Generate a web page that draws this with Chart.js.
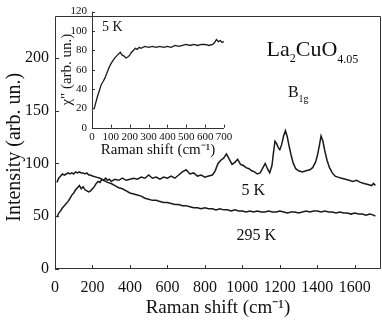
<!DOCTYPE html>
<html><head><meta charset="utf-8">
<script src="https://cdn.jsdelivr.net/npm/chart.js@4"></script>
<style>
html,body{margin:0;padding:0;background:#fff;}
#wrap{position:relative;width:382px;height:321px;overflow:hidden;}
#main{position:absolute;left:0;top:0;}
#inset{position:absolute;left:55px;top:0;}
</style></head><body>
<div id="wrap"><canvas id="main" width="382" height="321"></canvas><canvas id="inset" width="185" height="160"></canvas></div>
<script>
// ---- Main panel data (Raman shift in cm-1, intensity in arb. un.) ----
const shift5K = [10,20,30,40,50,60,70,80,90,100,110,120,130,140,150,160,170,180,190,200,210,220,230,240,250,260,270,280,290,300,
 320,340,360,380,400,420,440,460,480,500,520,540,560,580,600,620,640,660,680,700,720,740,760,780,800,820,840,
 855,870,885,900,915,930,945,960,975,990,1005,1020,1035,1050,1065,1080,1095,1110,1122,1134,1146,1158,1166,1174,1182,1192,1200,1210,1220,1230,1240,1250,1260,1272,1285,1300,1320,1340,1360,1375,1390,1400,1410,1420,1430,1440,1452,1465,1480,1495,1510,1530,1550,1570,1590,1610,1630,1650,1670,1690,1700,1710];
const int5K = [49,53,55,58,60,62,64,67,70,72,75,77,79,76,78,75,74,73,74,76,78,81,83,82,85,84,86,84,85,83,
 85,84,86,84,85,86,85,87,86,89,86,87,85,87,86,88,86,89,92,94,90,91,88,89,87,88,89,
 93,100,103,105,109,104,99,101,104,99,98,96,95,93,92,90,91,96,100,95,91,98,110,121,119,115,113,118,126,131,125,116,108,100,95,93,92,93,94,96,101,107,116,126,121,112,103,96,91,88,87,86,85,84,83,84,82,81,80,79,81,79];

const shift295K = [10,20,30,40,50,60,70,80,90,100,110,120,130,140,150,160,170,180,190,200,220,240,260,280,300,320,340,360,380,400,420,440,460,480,500,520,540,560,580,600,620,640,660,680,700,720,740,760,780,800,820,840,860,880,900,920,940,960,980,1000,1020,1040,1060,1080,1100,1120,1140,1160,1180,1200,1220,1240,1260,1280,1300,1320,1340,1360,1380,1400,1420,1440,1460,1480,1500,1520,1540,1560,1580,1600,1620,1640,1660,1680,1700,1710];
const int295K = [82,86,88,90,89,90,91,90,91,90,92,91,92,91,91,90,91,89,89,88,87,86,84,82,81,79,77,76,74,72,71,70,69,67,66,65,65,64,63,63,62,61,61,60,60,59,58,58,57,58,57,57,56,57,56,56,55,56,55,55,54,55,54,55,54,54,55,54,54,55,54,53,54,54,53,54,55,54,55,55,54,55,54,54,53,54,53,53,52,53,52,52,51,52,51,50];

// ---- Inset data (5 K, chi'') ----
const shiftInset = [10,15,20,30,40,50,60,70,80,90,100,110,120,130,140,150,160,170,180,190,200,210,220,230,240,250,260,280,300,320,340,360,380,400,420,440,460,480,500,520,540,560,580,600,620,640,650,660,670,680,690,700];
const chiInset = [19,22,26,33,39,45,48,52,57,62,66,69,72,74,76,78,75,74,72,73,75,78,80,82,81,83,82,84,83,84,83,84,83,84,83,85,84,85,86,85,86,85,86,86,85,86,88,91,89,90,88,89];

// ---- Axis tick labels ----
const mainXTickStep = 100, mainXLabelStep = 200;
const mainYTickStep = 25, mainYLabelStep = 50;
const insetXTickStep = 50, insetXLabelStep = 100;
const insetYTickStep = 20, insetYLabelStep = 20;

const FONT = '"Liberation Serif", "Times New Roman", serif';
const INK = '#111';

function pts(xs, ys){ return xs.map((x,i)=>({x:x, y:ys[i]})); }

const inTicks = {
  id:'inTicks',
  afterDraw(chart, args, o){
    const ctx = chart.ctx, a = chart.chartArea;
    const xs = chart.scales.x, ys = chart.scales.y;
    ctx.save();
    ctx.strokeStyle = o.color; ctx.lineWidth = 1;
    ctx.beginPath();
    xs.ticks.forEach(t=>{
      if (t.value % o.xStep !== 0) return;
      const p = Math.round(xs.getPixelForValue(t.value)) + 0.5;
      const L = (t.value % o.xLab === 0) ? o.major : o.minor;
      ctx.moveTo(p, a.bottom); ctx.lineTo(p, a.bottom - L);
    });
    ys.ticks.forEach(t=>{
      if (t.value % o.yStep !== 0) return;
      const p = Math.round(ys.getPixelForValue(t.value)) + 0.5;
      const L = (t.value % o.yLab === 0) ? o.major : o.minor;
      ctx.moveTo(a.left, p); ctx.lineTo(a.left + L, p);
    });
    ctx.stroke();
    ctx.beginPath();
    if (o.box) {
      ctx.rect(Math.round(a.left)+0.5, Math.round(a.top)+0.5, Math.round(a.right-a.left)-1, Math.round(a.bottom-a.top)-1);
    } else {
      ctx.moveTo(Math.round(a.left)+0.5, a.top); ctx.lineTo(Math.round(a.left)+0.5, Math.round(a.bottom)+0.5);
      ctx.lineTo(a.right, Math.round(a.bottom)+0.5);
    }
    ctx.stroke();
    ctx.restore();
  }
};

const richText = {
  id:'richText',
  afterDraw(chart, args, o){
    const ctx = chart.ctx, xs = chart.scales.x, ys = chart.scales.y;
    ctx.save();
    ctx.fillStyle = INK; ctx.textBaseline = 'alphabetic'; ctx.textAlign = 'left';
    (o.items||[]).forEach(it=>{
      let px = xs.getPixelForValue(it.x);
      const py = ys.getPixelForValue(it.y);
      it.runs.forEach(r=>{
        ctx.font = r.size + 'px ' + FONT;
        ctx.fillText(r.t, px, py + (r.dy||0));
        px += ctx.measureText(r.t).width;
      });
    });
    ctx.restore();
  }
};

Chart.defaults.font.family = FONT;
Chart.defaults.color = INK;

new Chart(document.getElementById('main'), {
  type:'line',
  data:{ datasets:[
    {label:'5 K', data:pts(shift5K,int5K), borderColor:'#1a1a1a', borderWidth:1.5, pointRadius:0, tension:0, fill:false},
    {label:'295 K', data:pts(shift295K,int295K), borderColor:'#1a1a1a', borderWidth:1.5, pointRadius:0, tension:0, fill:false}
  ]},
  options:{
    responsive:false, animation:false, devicePixelRatio:1,
    layout:{padding:{top:0,right:1,left:0,bottom:0}},
    plugins:{
      legend:{display:false}, tooltip:{enabled:false},
      inTicks:{color:'#333', major:4, minor:3, xStep:mainXTickStep, xLab:mainXLabelStep, yStep:mainYTickStep, yLab:mainYLabelStep, box:true},
      richText:{items:[
        {x:1129, y:201.8, runs:[{t:'La',size:22},{t:'2',size:12,dy:6},{t:'CuO',size:22},{t:'4.05',size:12,dy:7}]},
        {x:1243, y:163, runs:[{t:'B',size:16},{t:'1g',size:10,dy:5}]},
        {x:996, y:70.5, runs:[{t:'5 K',size:16}]},
        {x:969, y:27.7, runs:[{t:'295 K',size:16}]}
      ]}
    },
    scales:{
      x:{type:'linear', min:0, max:1740,
        afterFit(s){ s.height = 52; },
        grid:{display:false, drawTicks:false}, border:{display:false},
        ticks:{stepSize:mainXTickStep, autoSkip:false, maxRotation:0, padding:9, color:INK, font:{size:16},
          callback:v=> v % mainXLabelStep === 0 ? String(v) : null},
        title:{display:true, text:'Raman shift (cm\u207B\u00B9)', color:INK, font:{size:19}, padding:{top:0,bottom:2}}
      },
      y:{type:'linear', min:0, max:240,
        afterFit(s){ s.width = 55; },
        grid:{display:false, drawTicks:false}, border:{display:false},
        ticks:{stepSize:mainYTickStep, autoSkip:false, padding:6, color:INK, font:{size:16},
          callback:v=> v % mainYLabelStep === 0 ? String(v) : null},
        title:{display:true, text:'Intensity (arb. un.)  ', color:INK, font:{size:20}, padding:{top:3,bottom:0}}
      }
    }
  },
  plugins:[inTicks, richText]
});

new Chart(document.getElementById('inset'), {
  type:'line',
  data:{ datasets:[
    {label:'5 K', data:pts(shiftInset,chiInset), borderColor:'#1a1a1a', borderWidth:1.3, pointRadius:0, tension:0, fill:false}
  ]},
  options:{
    responsive:false, animation:false, devicePixelRatio:1,
    layout:{padding:{top:7,right:16,left:0,bottom:0}},
    plugins:{
      legend:{display:false}, tooltip:{enabled:false},
      inTicks:{color:'#333', major:3, minor:2, xStep:insetXTickStep, xLab:insetXLabelStep, yStep:insetYTickStep, yLab:insetYLabelStep, box:false},
      richText:{items:[{x:53, y:100, runs:[{t:'5 K',size:14}]}]}
    },
    scales:{
      x:{type:'linear', min:0, max:700,
        afterFit(s){ s.height = 32.3; },
        grid:{display:false, drawTicks:false}, border:{display:false},
        ticks:{stepSize:insetXTickStep, autoSkip:false, maxRotation:0, padding:3, color:INK, font:{size:11},
          callback:v=> v % insetXLabelStep === 0 ? String(v) : null},
        title:{display:true, text:'Raman shift (cm\u207B\u00B9)', color:INK, font:{size:15}, padding:{top:0,bottom:1}}
      },
      y:{type:'linear', min:0, max:120,
        afterFit(s){ s.width = 37; },
        grid:{display:false, drawTicks:false}, border:{display:false},
        ticks:{stepSize:insetYTickStep, autoSkip:false, padding:5, color:INK, font:{size:11},
          callback:v=> v % insetYLabelStep === 0 ? String(v) : null},
        title:{display:true, text:'\u03C7" (arb. un.)', color:INK, font:{size:15}, padding:{top:3,bottom:0}}
      }
    }
  },
  plugins:[inTicks, richText]
});
</script>
</body></html>
